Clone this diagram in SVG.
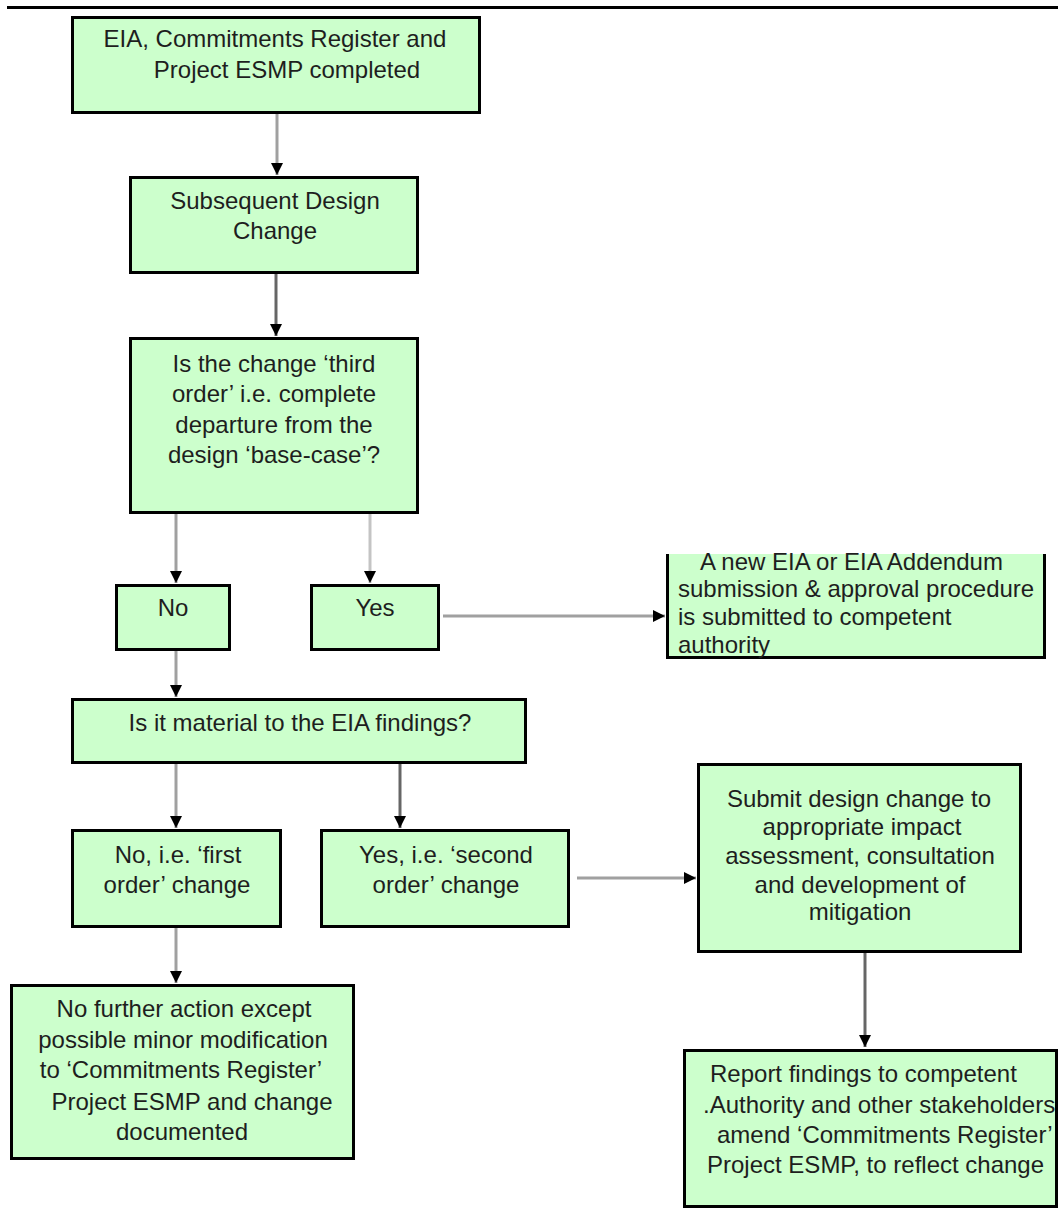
<svg xmlns="http://www.w3.org/2000/svg" width="1058" height="1215" viewBox="0 0 1058 1215">
<style>
.box{fill:#ccffcc;stroke:#000;stroke-width:3}
.t{font-family:"Liberation Sans",Arial,sans-serif;font-size:24px;fill:#1e1e1e}
.c{text-anchor:middle}
.ln{fill:none;stroke:#a0a0a0;stroke-width:3}
.dk{stroke:#666}
.lt{stroke:#c4c4c4}
</style>
<defs>
<marker id="ah" markerUnits="userSpaceOnUse" markerWidth="14" markerHeight="14" refX="12" refY="6" orient="auto">
<path d="M0,0 L12,6 L0,12 Z" fill="#000"/>
</marker>
</defs>
<rect width="1058" height="1215" fill="#fff"/>
<line x1="7" y1="7.5" x2="1058" y2="7.5" stroke="#000" stroke-width="3"/>
<g id="connectors">
<line class="ln" x1="277" y1="114" x2="277" y2="175" marker-end="url(#ah)"/>
<line class="ln dk" x1="276" y1="274" x2="276" y2="336" marker-end="url(#ah)"/>
<line class="ln" x1="176" y1="514" x2="176" y2="583" marker-end="url(#ah)"/>
<line class="ln lt" x1="370" y1="514" x2="370" y2="583" marker-end="url(#ah)"/>
<line class="ln" x1="443" y1="616" x2="665" y2="616" marker-end="url(#ah)"/>
<line class="ln" x1="176" y1="651" x2="176" y2="697" marker-end="url(#ah)"/>
<line class="ln" x1="176" y1="764" x2="176" y2="828" marker-end="url(#ah)"/>
<line class="ln dk" x1="400" y1="764" x2="400" y2="828" marker-end="url(#ah)"/>
<line class="ln" x1="577" y1="878" x2="696" y2="878" marker-end="url(#ah)"/>
<line class="ln" x1="176" y1="928" x2="176" y2="983" marker-end="url(#ah)"/>
<line class="ln dk" x1="865" y1="953" x2="865" y2="1047" marker-end="url(#ah)"/>
</g>
<g id="n1">
<rect class="box" x="72.5" y="17.5" width="407" height="95"/>
<text class="t c" x="275" y="47">EIA, Commitments Register and</text>
<text class="t c" x="287" y="78">Project ESMP completed</text>
</g>
<g id="n2">
<rect class="box" x="130.5" y="177.5" width="287" height="95"/>
<text class="t c" x="275" y="209">Subsequent Design</text>
<text class="t c" x="275" y="239">Change</text>
</g>
<g id="n3">
<rect class="box" x="130.5" y="338.5" width="287" height="174"/>
<text class="t c" x="274" y="372">Is the change ‘third</text>
<text class="t c" x="274" y="402">order’ i.e. complete</text>
<text class="t c" x="274" y="433">departure from the</text>
<text class="t c" x="274" y="463">design ‘base-case’?</text>
</g>
<g id="n4">
<rect class="box" x="116.5" y="585.5" width="113" height="64"/>
<text class="t c" x="173" y="616">No</text>
</g>
<g id="n5">
<rect class="box" x="311.5" y="585.5" width="127" height="64"/>
<text class="t c" x="375" y="616">Yes</text>
</g>
<g id="n6">
<rect x="667.5" y="554" width="377" height="103.5" fill="#ccffcc"/>
<path d="M667.5,554 V657.5 H1044.5 V554" fill="none" stroke="#000" stroke-width="3"/>
<text class="t" x="700" y="570">A new EIA or EIA Addendum</text>
<text class="t" x="678" y="597">submission &amp; approval procedure</text>
<text class="t" x="678" y="625">is submitted to competent</text>
<text class="t" x="678" y="653">authority</text>
</g>
<g id="n7">
<rect class="box" x="72.5" y="699.5" width="453" height="63"/>
<text class="t c" x="300" y="731">Is it material to the EIA findings?</text>
</g>
<g id="n8">
<rect class="box" x="72.5" y="830.5" width="208" height="96"/>
<text class="t c" x="178" y="863">No, i.e. ‘first</text>
<text class="t c" x="177" y="893">order’ change</text>
</g>
<g id="n9">
<rect class="box" x="321.5" y="830.5" width="247" height="96"/>
<text class="t c" x="446" y="863">Yes, i.e. ‘second</text>
<text class="t c" x="446" y="893">order’ change</text>
</g>
<g id="n10">
<rect class="box" x="698.5" y="764.5" width="322" height="187"/>
<text class="t c" x="859" y="807">Submit design change to</text>
<text class="t c" x="862" y="835">appropriate impact</text>
<text class="t c" x="860" y="864">assessment, consultation</text>
<text class="t c" x="860" y="893">and development of</text>
<text class="t c" x="860" y="920">mitigation</text>
</g>
<g id="n11">
<rect class="box" x="11.5" y="985.5" width="342" height="173"/>
<text class="t c" x="184" y="1017">No further action except</text>
<text class="t c" x="183" y="1048">possible minor modification</text>
<text class="t c" x="181" y="1078">to ‘Commitments Register’</text>
<text class="t c" x="192" y="1110">Project ESMP and change</text>
<text class="t c" x="182" y="1140">documented</text>
</g>
<g id="n12">
<rect class="box" x="684.5" y="1050.5" width="372" height="156"/>
<text class="t" x="710" y="1082">Report findings to competent</text>
<text class="t" x="703" y="1113">.Authority and other stakeholders</text>
<text class="t" x="717" y="1143">amend ‘Commitments Register’</text>
<text class="t" x="707" y="1173">Project ESMP, to reflect change</text>
</g>
</svg>
